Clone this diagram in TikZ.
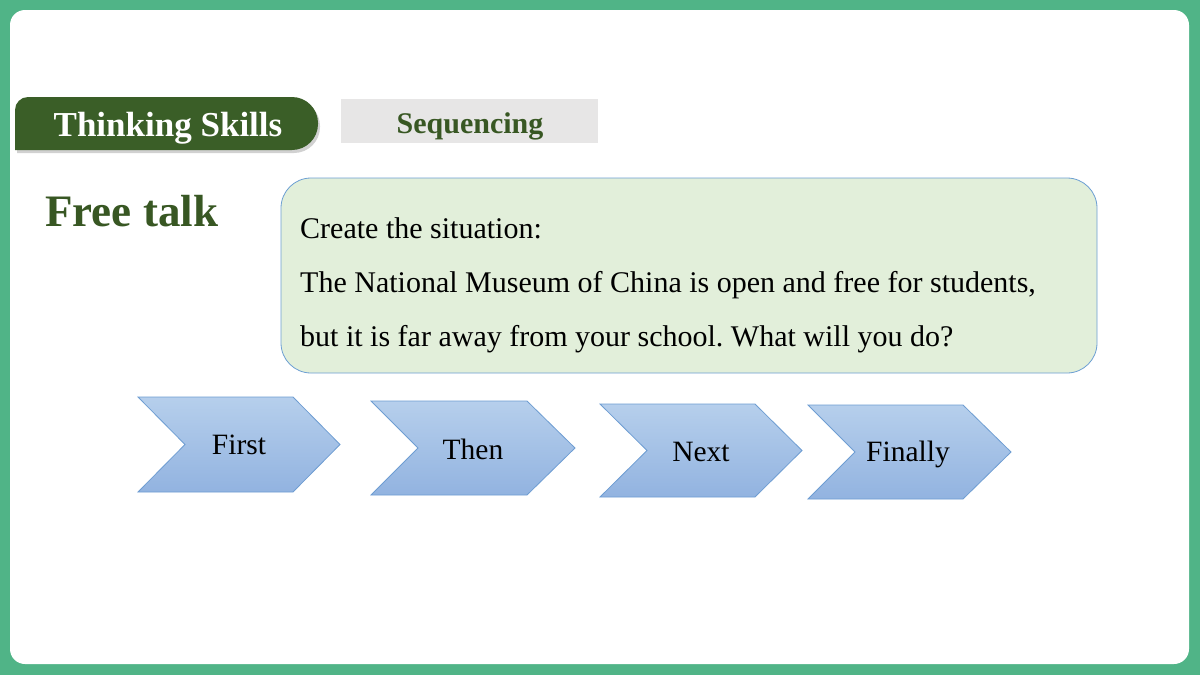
\documentclass[tikz,border=0pt]{standalone}
\usepackage{fontspec}
\setmainfont{Liberation Serif}
\frenchspacing
\definecolor{frame}{HTML}{50B487}
\definecolor{darkgreen}{HTML}{3A5E27}
\definecolor{titlegreen}{HTML}{385723}
\definecolor{boxfill}{HTML}{E2EFDA}
\definecolor{boxline}{HTML}{6C9FD3}
\definecolor{tabgray}{HTML}{E7E6E6}
\definecolor{chevtop}{HTML}{B6CFEC}
\definecolor{chevbot}{HTML}{92B3E0}
\definecolor{chevline}{HTML}{6E9DD2}
\tikzset{
  chev/.style={draw=chevline, line width=0.8pt, top color=chevtop, bottom color=chevbot},
  chevtext/.style={font=\fontsize{29.5}{34}\selectfont, text=black, inner sep=0pt},
  bodytext/.style={font=\fontsize{30}{36}\selectfont, text=black, anchor=base west, inner sep=0pt},
}
\begin{document}
\begin{tikzpicture}[x=1pt,y=-1pt]
\useasboundingbox (0,0) rectangle (1200,675);
% frame
\fill[frame] (0,0) rectangle (1200,675);
\fill[white, rounded corners=15pt] (10,10) rectangle (1189,664);
% Thinking Skills tab
\fill[black, opacity=0.18] (17,153) [rounded corners=13pt] -- (17,100) [rounded corners=26pt] -- (320,100) -- (320,153) [sharp corners] -- cycle;
\fill[darkgreen] (15,150) [rounded corners=13pt] -- (15,97) [rounded corners=26pt] -- (318,97) -- (318,150) [sharp corners] -- cycle;
\node[font=\bfseries\fontsize{35}{40}\selectfont, text=white, anchor=base, inner sep=0pt] (tab) at (168,136) {Thinking Skills};
% Sequencing
\fill[tabgray] (341,99) rectangle (598,143);
\node[font=\bfseries\fontsize{30}{34}\selectfont, text=titlegreen, anchor=base, inner sep=0pt] (seq) at (470,133) {Sequencing};
% Free talk
\node[font=\bfseries\fontsize{45}{52}\selectfont, text=titlegreen, anchor=base west, inner sep=0pt] (free) at (45,226) {Free talk};
% situation box
\draw[boxline, fill=boxfill, line width=0.8pt, rounded corners=30pt] (281,178) rectangle (1097,373);
\node[bodytext] (l1) at (300,238) {Create the situation:};
\node[bodytext] (l2) at (300,292) {The National Museum of China is open and free for students,};
\node[bodytext] (l3) at (300,346) {but it is far away from your school. What will you do?};
% chevrons
\path[chev] (138,397) -- (293,397) -- (340,444.5) -- (293,492) -- (138,492) -- (185,444.5) -- cycle;
\path[chev] (371,401) -- (527,401) -- (575,448) -- (527,495) -- (371,495) -- (418,448) -- cycle;
\path[chev] (600,404) -- (755,404) -- (802,450.5) -- (755,497) -- (600,497) -- (647,450.5) -- cycle;
\path[chev] (808,405) -- (963,405) -- (1011,452) -- (963,499) -- (808,499) -- (855,452) -- cycle;
\node[chevtext] (first) at (239,445) {First};
\node[chevtext] (then) at (473,449) {Then};
\node[chevtext] (next) at (701,452) {Next};
\node[chevtext] (finally) at (908,454) {Finally};
\end{tikzpicture}
\end{document}
